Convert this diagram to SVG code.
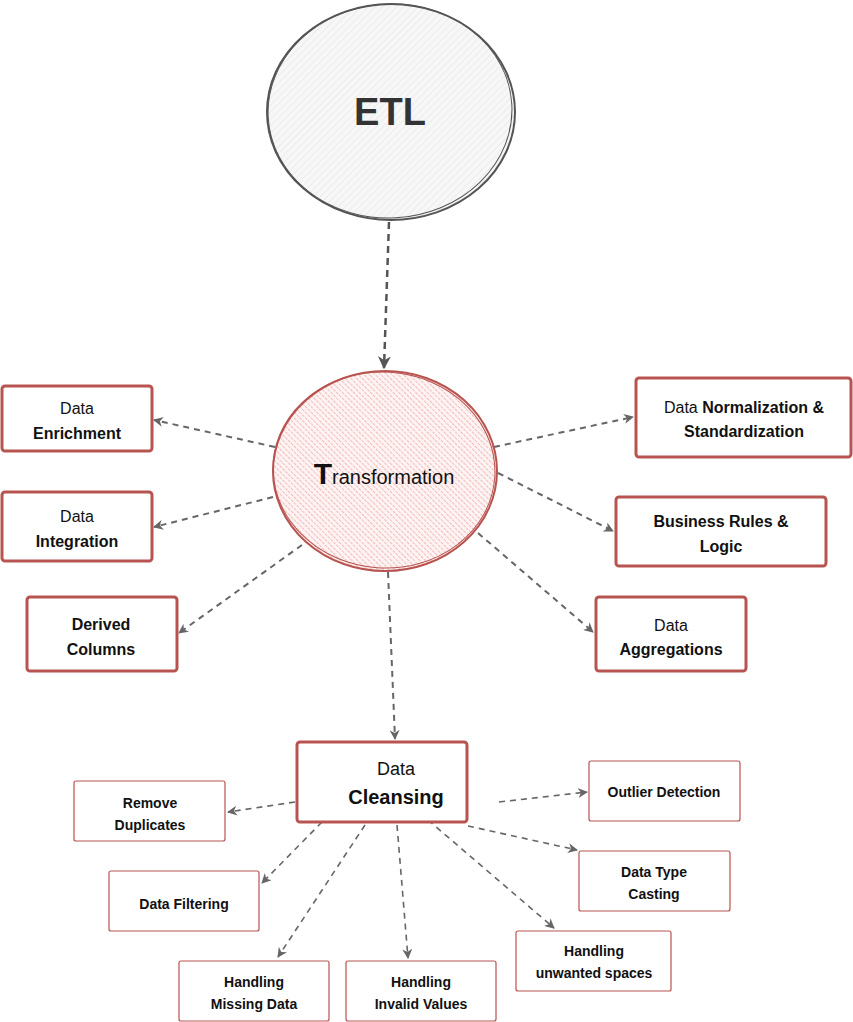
<svg xmlns="http://www.w3.org/2000/svg" width="853" height="1022" viewBox="0 0 853 1022">
<style>
text{font-family:"Liberation Sans","DejaVu Sans",sans-serif;fill:#111;text-anchor:middle}
.b{font-weight:bold}
.box{fill:#fff;stroke:#b85450;stroke-width:3}
.sbox{fill:#fff;stroke:#b85450;stroke-width:1.2}
.c{fill:none;stroke:#666;stroke-width:2;stroke-dasharray:6 5;marker-end:url(#ah)}
.cs{fill:none;stroke:#666;stroke-width:1.6;stroke-dasharray:6 5;marker-end:url(#ah)}
</style>
<defs>
<marker id="ah" viewBox="0 0 10 10" refX="9" refY="5" markerWidth="10" markerHeight="10" markerUnits="userSpaceOnUse" orient="auto"><path d="M0,0 L10,5 L0,10 L3,5 Z" fill="#666"/></marker>
<marker id="ah2" viewBox="0 0 10 10" refX="9" refY="5" markerWidth="13" markerHeight="13" markerUnits="userSpaceOnUse" orient="auto"><path d="M0,0 L10,5 L0,10 L3,5 Z" fill="#555"/></marker>
<pattern id="hg" width="5" height="5" patternUnits="userSpaceOnUse" patternTransform="rotate(45)"><rect width="5" height="5" fill="#f7f7f7"/><line x1="0" y1="0" x2="0" y2="5" stroke="#e2e2e2" stroke-width="1"/></pattern>
<pattern id="hr" width="4" height="4" patternUnits="userSpaceOnUse" patternTransform="rotate(-45)"><rect width="4" height="4" fill="#fdf3f3"/><line x1="0" y1="0" x2="0" y2="4" stroke="#eea7a4" stroke-width="1.4" stroke-dasharray="2 1"/></pattern>
</defs>
<rect width="853" height="1022" fill="#fff"/>
<g id="connectors">
<path d="M389,222 L384,368" fill="none" stroke="#555" stroke-width="2.5" stroke-dasharray="7 5" marker-end="url(#ah2)"/>
<path class="c" d="M275,447 L154,420"/>
<path class="c" d="M273,497 L154,527"/>
<path class="c" d="M302,545 L179,633"/>
<path class="c" d="M494,447 L633,417"/>
<path class="c" d="M498,473 L613,531"/>
<path class="c" d="M478,533 L593,632"/>
<path class="c" d="M388,572 L395,739"/>
<path class="cs" d="M295,802 L228,812"/>
<path class="cs" d="M322,822 L262,883"/>
<path class="cs" d="M365,825 L278,957"/>
<path class="cs" d="M397,825 L408,958"/>
<path class="cs" d="M428,820 L554,928"/>
<path class="cs" d="M468,826 L577,850"/>
<path class="cs" d="M499,802 L587,792"/>
</g>
<g id="etl">
<ellipse cx="391" cy="112" rx="124" ry="108" fill="url(#hg)" stroke="#555" stroke-width="2"/>
<ellipse cx="390" cy="111" rx="122" ry="107" fill="none" stroke="#555" stroke-width="1" transform="rotate(-3 390 111)"/>
<text x="390" y="125" class="b" style="font-size:38px;fill:#333">ETL</text>
</g>
<g id="transformation">
<ellipse cx="385" cy="471" rx="112" ry="100" fill="url(#hr)" stroke="#b85450" stroke-width="2"/>
<ellipse cx="384" cy="470" rx="111" ry="98" fill="none" stroke="#b85450" stroke-width="1" transform="rotate(4 384 470)"/>
<text x="384" y="484"><tspan class="b" style="font-size:30px">T</tspan><tspan style="font-size:20px">ransformation</tspan></text>
</g>
<g id="enrichment">
<rect class="box" x="2" y="386" width="150" height="65" rx="3"/>
<text x="77" y="414" style="font-size:16px">Data</text>
<text x="77" y="439" class="b" style="font-size:16px">Enrichment</text>
</g>
<g id="integration">
<rect class="box" x="2" y="492" width="150" height="69" rx="3"/>
<text x="77" y="522" style="font-size:16px">Data</text>
<text x="77" y="547" class="b" style="font-size:16px">Integration</text>
</g>
<g id="derived">
<rect class="box" x="27" y="597" width="150" height="74" rx="3"/>
<text x="101" y="630" class="b" style="font-size:16px">Derived</text>
<text x="101" y="655" class="b" style="font-size:16px">Columns</text>
</g>
<g id="normalization">
<rect class="box" x="636" y="378" width="215" height="79" rx="3"/>
<text x="744" y="413" style="font-size:16px">Data <tspan class="b">Normalization &amp;</tspan></text>
<text x="744" y="437" class="b" style="font-size:16px">Standardization</text>
</g>
<g id="business">
<rect class="box" x="616" y="497" width="210" height="69" rx="3"/>
<text x="721" y="527" class="b" style="font-size:16px">Business Rules &amp;</text>
<text x="721" y="552" class="b" style="font-size:16px">Logic</text>
</g>
<g id="aggregations">
<rect class="box" x="596" y="597" width="150" height="74" rx="3"/>
<text x="671" y="631" style="font-size:16px">Data</text>
<text x="671" y="655" class="b" style="font-size:16px">Aggregations</text>
</g>
<g id="cleansing">
<rect class="box" x="297" y="742" width="170" height="80" rx="3"/>
<text x="396" y="775" style="font-size:18px">Data</text>
<text x="396" y="804" class="b" style="font-size:20px">Cleansing</text>
</g>
<g id="duplicates">
<rect class="sbox" x="74" y="781" width="151" height="60" rx="2"/>
<text x="150" y="808" class="b" style="font-size:14px">Remove</text>
<text x="150" y="830" class="b" style="font-size:14px">Duplicates</text>
</g>
<g id="filtering">
<rect class="sbox" x="109" y="871" width="150" height="60" rx="2"/>
<text x="184" y="909" class="b" style="font-size:14px">Data Filtering</text>
</g>
<g id="missing">
<rect class="sbox" x="179" y="961" width="150" height="60" rx="2"/>
<text x="254" y="987" class="b" style="font-size:14px">Handling</text>
<text x="254" y="1009" class="b" style="font-size:14px">Missing Data</text>
</g>
<g id="invalid">
<rect class="sbox" x="346" y="961" width="150" height="60" rx="2"/>
<text x="421" y="987" class="b" style="font-size:14px">Handling</text>
<text x="421" y="1009" class="b" style="font-size:14px">Invalid Values</text>
</g>
<g id="spaces">
<rect class="sbox" x="516" y="931" width="155" height="60" rx="2"/>
<text x="594" y="956" class="b" style="font-size:14px">Handling</text>
<text x="594" y="978" class="b" style="font-size:14px">unwanted spaces</text>
</g>
<g id="casting">
<rect class="sbox" x="579" y="851" width="151" height="60" rx="2"/>
<text x="654" y="877" class="b" style="font-size:14px">Data Type</text>
<text x="654" y="899" class="b" style="font-size:14px">Casting</text>
</g>
<g id="outlier">
<rect class="sbox" x="589" y="761" width="151" height="60" rx="2"/>
<text x="664" y="797" class="b" style="font-size:14px">Outlier Detection</text>
</g>
</svg>
